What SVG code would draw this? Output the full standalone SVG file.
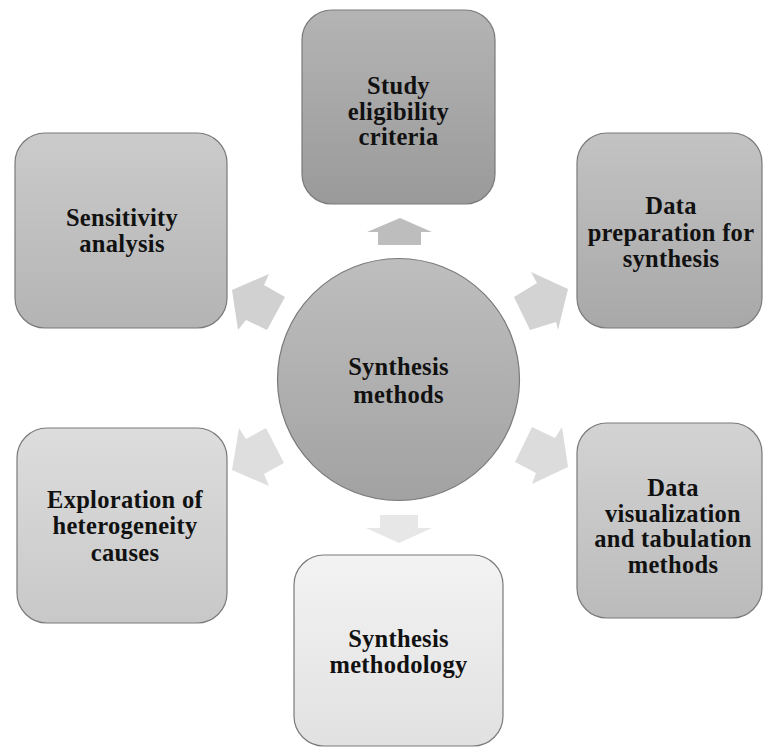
<svg xmlns="http://www.w3.org/2000/svg" width="763" height="747" viewBox="0 0 763 747">
  <defs>
    <linearGradient id="gTop" x1="0" y1="0" x2="0" y2="1"><stop offset="0" stop-color="#b4b4b4"/><stop offset="1" stop-color="#9a9a9a"/></linearGradient>
    <linearGradient id="gSens" x1="0" y1="0" x2="0" y2="1"><stop offset="0" stop-color="#cbcbcb"/><stop offset="1" stop-color="#b4b4b4"/></linearGradient>
    <linearGradient id="gPrep" x1="0" y1="0" x2="0" y2="1"><stop offset="0" stop-color="#c3c3c3"/><stop offset="1" stop-color="#a8a8a8"/></linearGradient>
    <linearGradient id="gExpl" x1="0" y1="0" x2="0" y2="1"><stop offset="0" stop-color="#dddddd"/><stop offset="1" stop-color="#c8c8c8"/></linearGradient>
    <linearGradient id="gVis" x1="0" y1="0" x2="0" y2="1"><stop offset="0" stop-color="#d3d3d3"/><stop offset="1" stop-color="#bbbbbb"/></linearGradient>
    <linearGradient id="gBot" x1="0" y1="0" x2="0" y2="1"><stop offset="0" stop-color="#f3f3f3"/><stop offset="1" stop-color="#e1e1e1"/></linearGradient>
    <linearGradient id="gCirc" x1="0" y1="0" x2="0" y2="1"><stop offset="0" stop-color="#bebebe"/><stop offset="1" stop-color="#a2a2a2"/></linearGradient>
  </defs>
  <style>
    .box { stroke: #7a7a7a; stroke-width: 1.2; }
    .lbl { font-family: "Liberation Serif", "Times New Roman", serif; font-weight: bold; font-size: 24.5px; letter-spacing: 0.3px; fill: #111111; text-anchor: middle; }
  </style>

  <g id="connectors">
    <polygon points="400,218 432,232 421,232 421,245 378,245 378,232 367,232" fill="#bdbdbd"/>
    <polygon points="232,290 269,274 264,285 285,297 267,330 246,320 238,330" fill="#d1d1d1"/>
    <polygon points="568,289 531,272 537,283 514,297 530,330 556,322 558,330" fill="#d3d3d3"/>
    <polygon points="232,470 239,428 246,439 266,428 284,463 264,474 269,486" fill="#dedede"/>
    <polygon points="568,467 562,427 555,438 532,427 515,462 536,473 532,484" fill="#dcdcdc"/>
    <polygon points="380,515 418,515 418,528 432,528 399,543 366,528 380,528" fill="#e7e7e7"/>
  </g>

  <g id="node-center">
    <circle cx="398.5" cy="379.5" r="121" fill="url(#gCirc)" class="box"/>
    <text class="lbl" x="398.5" y="375">Synthesis</text>
    <text class="lbl" x="398.5" y="403">methods</text>
  </g>

  <g id="node-study">
    <rect x="302" y="10" width="193" height="194" rx="30" fill="url(#gTop)" class="box"/>
    <text class="lbl" x="398.5" y="94">Study</text>
    <text class="lbl" x="398.5" y="119.5">eligibility</text>
    <text class="lbl" x="398.5" y="145">criteria</text>
  </g>

  <g id="node-sensitivity">
    <rect x="15" y="133" width="212" height="195" rx="30" fill="url(#gSens)" class="box"/>
    <text class="lbl" x="122" y="226">Sensitivity</text>
    <text class="lbl" x="122" y="252">analysis</text>
  </g>

  <g id="node-preparation">
    <rect x="577" y="133" width="185" height="195" rx="30" fill="url(#gPrep)" class="box"/>
    <text class="lbl" x="671" y="214">Data</text>
    <text class="lbl" x="671" y="241">preparation for</text>
    <text class="lbl" x="671" y="267">synthesis</text>
  </g>

  <g id="node-exploration">
    <rect x="17" y="428" width="210" height="195" rx="30" fill="url(#gExpl)" class="box"/>
    <text class="lbl" x="125" y="508">Exploration of</text>
    <text class="lbl" x="125" y="534">heterogeneity</text>
    <text class="lbl" x="125" y="561">causes</text>
  </g>

  <g id="node-visualization">
    <rect x="577" y="423" width="185" height="195" rx="30" fill="url(#gVis)" class="box"/>
    <text class="lbl" x="673" y="496">Data</text>
    <text class="lbl" x="673" y="521.5">visualization</text>
    <text class="lbl" x="673" y="547">and tabulation</text>
    <text class="lbl" x="673" y="572.5">methods</text>
  </g>

  <g id="node-methodology">
    <rect x="294" y="555" width="209" height="191" rx="30" fill="url(#gBot)" class="box"/>
    <text class="lbl" x="398.5" y="647">Synthesis</text>
    <text class="lbl" x="398.5" y="673">methodology</text>
  </g>
</svg>
